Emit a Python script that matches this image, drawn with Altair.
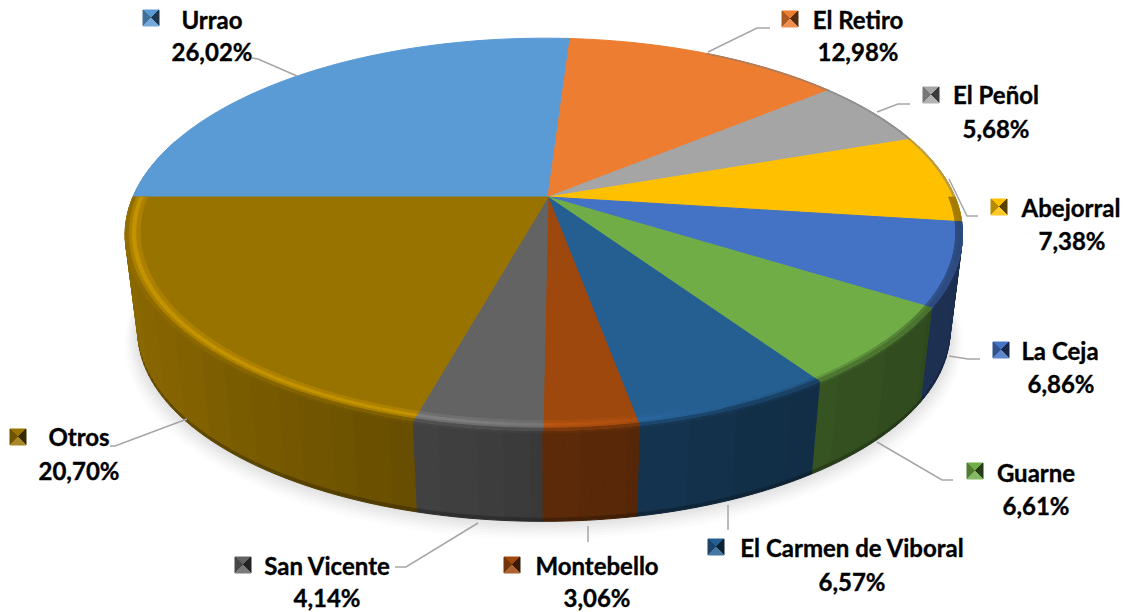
import math
import altair as alt
import pandas as pd

# ---- data ----
names = ["Urrao", "El Retiro", "El Peñol", "Abejorral", "La Ceja", "Guarne",
         "El Carmen de Viboral", "Montebello", "San Vicente", "Otros"]
shares = [26.02, 12.98, 5.68, 7.38, 6.86, 6.61, 6.57, 3.06, 4.14, 20.70]
colors = ["#5b9bd5", "#ed7d31", "#a5a5a5", "#ffc000", "#4472c4", "#70ad47",
          "#255e91", "#9e480e", "#636363", "#997300"]

# label layout (image pixels): name centre, percent centre, marker corner
name_xy = [(212, 22), (858, 22), (996, 97), (1071, 210), (1060, 353),
           (1036, 475), (852, 550), (597, 568), (327, 568), (79, 439)]
pct_xy = [(212, 54), (858, 54), (996, 131), (1072, 243), (1061, 386),
          (1036, 508), (852, 584), (597, 600), (327, 600), (79, 473)]
marker_xy = [(143, 10), (782, 11), (923, 87), (991, 199), (993, 342),
             (967, 463), (708, 539), (504, 557), (235, 557), (10, 429)]
leaders = [
    [(252, 58), (258, 59), (297, 76)],
    [(770, 28), (757, 28), (708, 52)],
    [(910, 104), (898, 104), (877, 112)],
    [(978, 216), (967, 216), (949, 179)],
    [(980, 359), (968, 359), (949, 356)],
    [(953, 480), (942, 480), (877, 442)],
    [(728, 530), (728, 505)],
    [(588, 542), (588, 526)],
    [(395, 567), (406, 567), (478, 523)],
    [(110, 446), (115, 446), (187, 419)],
]

# ---- perspective model of the disc ----
W, H = 1117, 604
CX, CY = 548.0, 197.0
RX, RY = 411.0, 189.0
K, M = 0.19, 0.0098
DROP, SHRINK = 98.0, 0.97
START = -90.0


def top(deg, r=1.0):
    a = math.radians(deg)
    u, v = r * math.sin(a), r * math.cos(a)
    d = 1 + K * v + M * u
    return (CX + RX * u / d, CY - RY * v / d)


def bottom(deg, r=1.0, extra=0.0):
    x, y = top(deg, r)
    return (CX + SHRINK * (x - CX), CY + DROP + extra + SHRINK * (y - CY))


def lerp(p, q, t):
    return (p[0] + (q[0] - p[0]) * t, p[1] + (q[1] - p[1]) * t)


def rgb(h):
    return tuple(int(h[i:i + 2], 16) for i in (1, 3, 5))


def mul(h, s):
    return "#%02x%02x%02x" % tuple(min(255, int(round(x * s))) for x in rgb(h))


def mix(a, b, t):
    ca, cb = rgb(a), rgb(b)
    return "#%02x%02x%02x" % tuple(int(round(x + (y - x) * t)) for x, y in zip(ca, cb))


def feat(points, color):
    ring = [list(p) for p in points] + [list(points[0])]
    return {"type": "Feature", "properties": {"c": color},
            "geometry": {"type": "Polygon", "coordinates": [ring]}}


def shade(u):
    s = 0.58 - 0.34 * u if u < 0 else 0.58 - 0.18 * u
    return round(s * 50) / 50


def rim_gain(u):
    """brightness factor of the bevel: lit from the left, dull on the right"""
    if u < 0.35:
        return 1 + min(0.28, 0.32 * (0.35 - u) / 0.6)
    return 1 - 0.35 * (u - 0.35) / 0.65


# slice angle ranges
edges = [START]
for s in shares:
    edges.append(edges[-1] + s * 3.6)

STEP = 1.5
strips = []
for i, c in enumerate(colors):
    a0, a1 = edges[i], edges[i + 1]
    n = max(1, int(math.ceil((a1 - a0) / STEP)))
    for j in range(n):
        strips.append((a0 + (a1 - a0) * j / n, a0 + (a1 - a0) * (j + 1) / n, c))

features = []

# soft shadow under the disc
for g, col in zip([0.052, 0.044, 0.036, 0.028, 0.020, 0.012, 0.004],
                  ["#fcfcfc", "#f9f9f9", "#f5f5f5", "#f0f0f0", "#ebebeb", "#e6e6e6", "#e1e1e1"]):
    features.append(feat([bottom(t, 1 + g * 0.55, g * 180) for t in range(0, 360, 3)], col))

# side wall, back strips first
ordered = sorted(strips, key=lambda s: -math.cos(math.radians((s[0] + s[1]) / 2)))
for a0, a1, c in ordered:
    m = math.radians((a0 + a1) / 2)
    u, v = math.sin(m), math.cos(m)
    if v > 0.3:
        continue
    wall = mul(c, shade(u))
    t0, t1 = top(a0), top(a1)
    b0, b1 = bottom(a0), bottom(a1)
    bands = [(0.0, 0.04, mix(wall, c, 0.12)),
             (0.04, 0.965, wall),
             (0.965, 1.0, mul(wall, 0.75))]
    for f0, f1, col in bands:
        features.append(feat([lerp(t0, b0, f0), lerp(t1, b1, f0),
                              lerp(t1, b1, f1), lerp(t0, b0, f1)], col))

# top face
for i, c in enumerate(colors):
    n = int((edges[i + 1] - edges[i]) / STEP) + 2
    arc = [top(edges[i] + (edges[i + 1] - edges[i]) * j / n) for j in range(n + 1)]
    features.append(feat([(CX, CY)] + arc, c))

# bevel along the rim, front half only plus a hair line on the back right
for a0, a1, c in strips:
    m = math.radians((a0 + a1) / 2)
    u, v = math.sin(m), math.cos(m)
    if v > 0.0:
        if u > 0.45:
            features.append(feat([top(a0, 0.996), top(a1, 0.996), top(a1, 1), top(a0, 1)],
                                 mix(c, "#7f7f7f", 0.55)))
        continue
    g = rim_gain(u)
    wall = mul(c, shade(u))
    if g >= 1:
        bands = [(0.966, 0.976, mul(c, 1 + (g - 1) * 0.45)),
                 (0.976, 0.986, mul(c, g)),
                 (0.986, 0.993, mul(c, 1 + (g - 1) * 0.45)),
                 (0.993, 1.0, mix(c, wall, 0.55))]
    else:
        bands = [(0.984, 0.991, mul(c, g)),
                 (0.991, 1.0, mix(c, wall, 0.6))]
    for r0, r1, col in bands:
        features.append(feat([top(a0, r0), top(a1, r0), top(a1, r1), top(a0, r1)], col))

# pyramid-shaded legend keys
SZ = 16
for (x, y), c in zip(marker_xy, colors):
    cn = (x + SZ / 2, y + SZ / 2)
    tl, tr, br, bl = (x, y), (x + SZ, y), (x + SZ, y + SZ), (x, y + SZ)
    features.append(feat([tl, tr, cn], c))
    features.append(feat([tl, cn, bl], mul(c, 0.72)))
    features.append(feat([tr, br, cn], mul(c, 0.35)))
    features.append(feat([bl, cn, br], mix(c, "#ffffff", 0.15)))

shapes = alt.Chart(alt.Data(values=features)).mark_geoshape(strokeWidth=1).encode(
    color=alt.Color("properties.c:N", scale=None, legend=None),
    stroke=alt.Stroke("properties.c:N", scale=None, legend=None),
).project(type="identity", scale=1, translate=[-8, -8])

xs = alt.Scale(domain=[8, 8 + W], range=[0, W])
ys = alt.Scale(domain=[8, 8 + H], range=[0, H])

line_rows = [{"k": i, "o": j, "x": p[0], "y": p[1]}
             for i, pts in enumerate(leaders) for j, p in enumerate(pts)]
lines = alt.Chart(pd.DataFrame(line_rows)).mark_line(color="#a6a6a6", strokeWidth=1.5).encode(
    x=alt.X("x:Q", scale=xs, axis=None),
    y=alt.Y("y:Q", scale=ys, axis=None),
    detail="k:N",
    order="o:Q",
)

text_rows = []
for n, s, a, b in zip(names, shares, name_xy, pct_xy):
    text_rows.append({"t": n, "x": a[0], "y": a[1]})
    text_rows.append({"t": f"{s:.2f}%".replace(".", ","), "x": b[0], "y": b[1]})
texts = alt.Chart(pd.DataFrame(text_rows)).mark_text(
    font="Lato", fontWeight="bold", fontSize=24, color="#000000",
    stroke="#000000", strokeWidth=0.35,
    align="center", baseline="middle",
).encode(
    x=alt.X("x:Q", scale=xs, axis=None),
    y=alt.Y("y:Q", scale=ys, axis=None),
    text="t:N",
)

chart = alt.layer(shapes, lines, texts).properties(
    width=W, height=H, padding=0, autosize="none", background="#ffffff"
).configure_view(stroke=None)

chart.save("out.html", embed_options={"renderer": "svg", "actions": False})
